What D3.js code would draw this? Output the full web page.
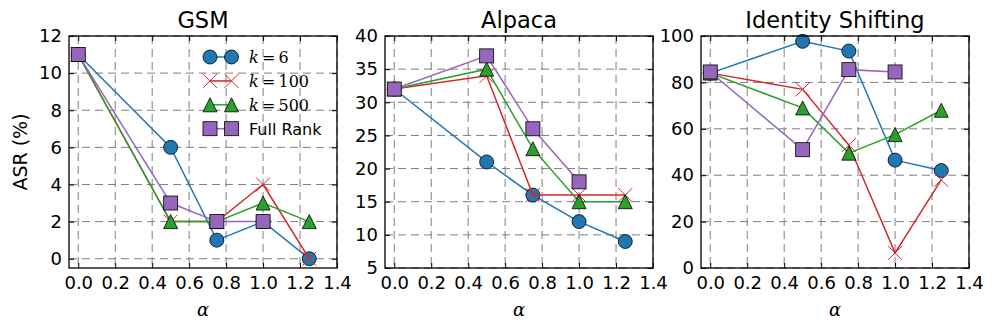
<!DOCTYPE html>
<html>
<head>
<meta charset="utf-8">
<script src="https://cdn.jsdelivr.net/npm/d3@7"></script>
<style>
body{margin:0;background:#fff;}
svg{display:block;font-family:"DejaVu Sans",sans-serif;}
</style>
</head>
<body>
<svg id="chart" width="996" height="333"></svg>
<script>

// values
var alphas = [0, 0.5, 0.75, 1.0, 1.25];
var xTicks = [0, 0.2, 0.4, 0.6, 0.8, 1.0, 1.2, 1.4];

var panelTitles = ["GSM", "Alpaca", "Identity Shifting"];
var yTicksGsm = [0, 2, 4, 6, 8, 10, 12];
var yTicksAlpaca = [5, 10, 15, 20, 25, 30, 35, 40];
var yTicksIdentity = [0, 20, 40, 60, 80, 100];

var gsmK6 = [11, 6, 1, 2, 0];
var gsmK100 = [11, 2, 2, 4, 0];
var gsmK500 = [11, 2, 2, 3, 2];
var gsmFull = [11, 3, 2, 2];

var alpacaK6 = [32, 21, 16, 12, 9];
var alpacaK100 = [32, 34, 16, 16, 16];
var alpacaK500 = [32, 35, 23, 15, 15];
var alpacaFull = [32, 37, 26, 18];

var identityK6 = [84, 97.7, 93.5, 46.5, 42];
var identityK100 = [84, 77, 53, 6.5, 38];
var identityK500 = [84, 69, 49.5, 57.5, 68];
var identityFull = [84.5, 51, 85.5, 84.5];

var seriesNames = ["k6", "k100", "k500", "full"];
var seriesColors = {k6:"#1f77b4", k100:"#d62728", k500:"#2ca02c", full:"#9467bd"};
var seriesMarkers = {k6:"circle", k100:"x", k500:"triangle", full:"square"};

var panels = [
	{title:panelTitles[0], yDomain:[-0.5,12], yTicks:yTicksGsm, data:{k6:gsmK6,k100:gsmK100,k500:gsmK500,full:gsmFull}},
	{title:panelTitles[1], yDomain:[5,40], yTicks:yTicksAlpaca, data:{k6:alpacaK6,k100:alpacaK100,k500:alpacaK500,full:alpacaFull}},
	{title:panelTitles[2], yDomain:[0,100], yTicks:yTicksIdentity, data:{k6:identityK6,k100:identityK100,k500:identityK500,full:identityFull}}
];

var svg = d3.select("#chart");
var W = 268, H = 232, top0 = 36;
var lefts = [69, 385, 701];
var ms = 14;

function drawMarker(g, type, color, x, y){
	if(type=="circle"){
		g.append("circle").attr("cx",x).attr("cy",y).attr("r",ms/2)
		.attr("fill",color).attr("stroke","#000").attr("stroke-width",0.8);
	}
	else if(type=="square"){
		g.append("rect").attr("x",x-ms/2).attr("y",y-ms/2).attr("width",ms).attr("height",ms)
		.attr("fill",color).attr("stroke","#000").attr("stroke-width",0.8);
	}
	else if(type=="triangle"){
		var h = ms/2;
		g.append("path").attr("d","M"+x+","+(y-h)+"L"+(x-h)+","+(y+h)+"L"+(x+h)+","+(y+h)+"Z")
		.attr("fill",color).attr("stroke","#000").attr("stroke-width",0.8);
	}
	else{
		var h = ms/2;
		g.append("path").attr("d","M"+(x-h)+","+(y-h)+"L"+(x+h)+","+(y+h)+"M"+(x-h)+","+(y+h)+"L"+(x+h)+","+(y-h))
		.attr("fill","none").attr("stroke",color).attr("stroke-width",1);
	}
}

panels.forEach(function(p, pi){
	var g = svg.append("g").attr("transform","translate("+lefts[pi]+","+top0+")");
	var x = d3.scaleLinear().domain([-0.05,1.4]).range([0,W]);
	var y = d3.scaleLinear().domain(p.yDomain).range([H,0]);

	// grid
	g.append("g").selectAll("line").data(xTicks).enter().append("line")
	.attr("x1",function(d){return x(d);}).attr("x2",function(d){return x(d);})
	.attr("y1",0).attr("y2",H)
	.attr("stroke","#7f7f7f").attr("stroke-width",1).attr("stroke-dasharray","8,5");
	g.append("g").selectAll("line").data(p.yTicks).enter().append("line")
	.attr("y1",function(d){return y(d);}).attr("y2",function(d){return y(d);})
	.attr("x1",0).attr("x2",W)
	.attr("stroke","#7f7f7f").attr("stroke-width",1).attr("stroke-dasharray","8,5");

	// axes, ticks pointing in
	g.append("g").attr("transform","translate(0,"+H+")")
	.call(d3.axisBottom(x).tickValues(xTicks).tickFormat(d3.format(".1f")).tickSize(-5).tickPadding(8).tickSizeOuter(0));
	g.append("g")
	.call(d3.axisLeft(y).tickValues(p.yTicks).tickSize(-5).tickPadding(7).tickSizeOuter(0));
	g.append("g").call(d3.axisTop(x).tickValues(xTicks).tickFormat("").tickSize(-5).tickSizeOuter(0));
	g.append("g").attr("transform","translate("+W+",0)")
	.call(d3.axisRight(y).tickValues(p.yTicks).tickFormat("").tickSize(-5).tickSizeOuter(0));
	g.selectAll(".domain").remove();
	g.selectAll(".tick line").attr("stroke","#000");
	g.selectAll(".tick text").attr("font-size","18px").attr("fill","#000")
	.attr("font-family","'DejaVu Sans',sans-serif");

	// series
	seriesNames.forEach(function(s){
		var vals = p.data[s];
		var pts = vals.map(function(v,i){return [x(alphas[i]), y(v)];});
		g.append("path").attr("d",d3.line()(pts))
		.attr("fill","none").attr("stroke",seriesColors[s]).attr("stroke-width",1.5);
		var mg = g.append("g");
		pts.forEach(function(pt){drawMarker(mg, seriesMarkers[s], seriesColors[s], pt[0], pt[1]);});
	});

	// frame
	g.append("rect").attr("width",W).attr("height",H).attr("fill","none")
	.attr("stroke","#000").attr("stroke-width",1.3);

	g.append("text").attr("x",W/2).attr("y",-8).attr("text-anchor","middle")
	.attr("font-size","22.5px").text(p.title);

	g.append("text").attr("x",W/2).attr("y",H+48).attr("text-anchor","middle")
	.attr("font-family","'DejaVu Serif',serif").attr("font-style","italic")
	.attr("font-size","18px").text("α");
});

svg.append("text").attr("transform","translate(27,"+(top0+H/2)+") rotate(-90)")
.attr("text-anchor","middle").attr("font-size","19px").text("ASR (%)");

// legend, first panel
var legendLabels = [["k","6"],["k","100"],["k","500"],[null,"Full Rank"]];
var lg = svg.append("g").attr("transform","translate(210,57)");
seriesNames.forEach(function(s,i){
	var ly = i*23.9;
	lg.append("line").attr("x1",0).attr("x2",21.5).attr("y1",ly).attr("y2",ly)
	.attr("stroke",seriesColors[s]).attr("stroke-width",1.5);
	drawMarker(lg, seriesMarkers[s], seriesColors[s], 0, ly);
	drawMarker(lg, seriesMarkers[s], seriesColors[s], 21.5, ly);
	var t = lg.append("text").attr("x",39).attr("y",ly+6).attr("font-size","16px");
	if(legendLabels[i][0]){
		t.attr("font-family","'DejaVu Serif',serif");
		t.append("tspan").attr("font-style","italic").text(legendLabels[i][0]);
		t.append("tspan").text("\u2009=\u2009"+legendLabels[i][1]);
	}
	else{
		t.text(legendLabels[i][1]);
	}
});
</script>
</body>
</html>
